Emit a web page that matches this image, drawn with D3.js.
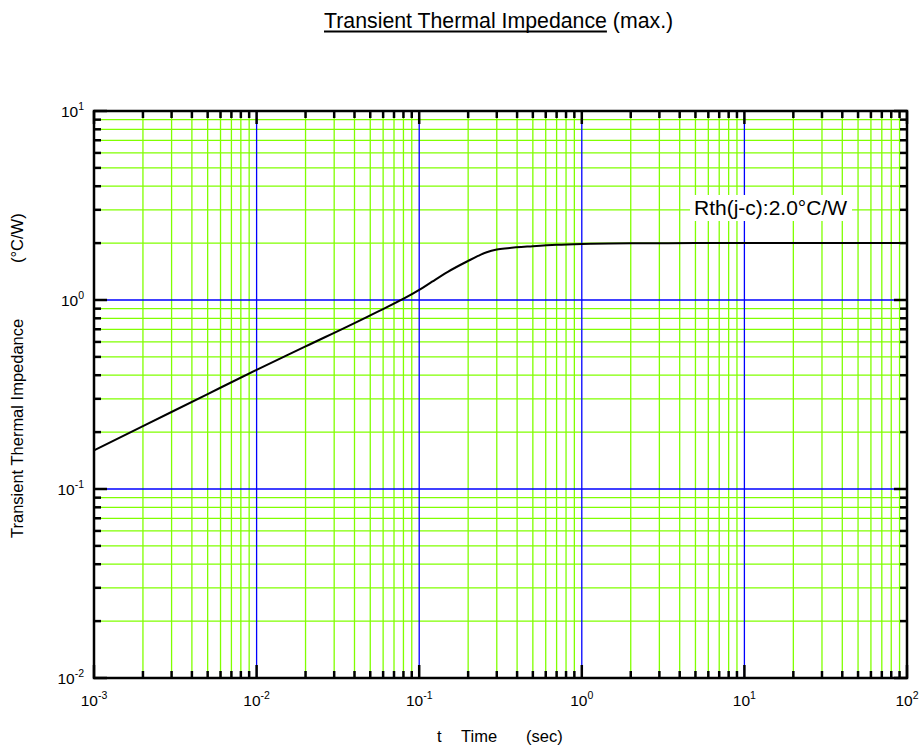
<!DOCTYPE html>
<html>
<head>
    <meta charset="utf-8">
    <title>transient thermal impedance</title>
    <script src="https://d3js.org/d3.v7.min.js"></script>
    <style>
        body { margin: 0px; background: #fff; }
        text { font-family: "Liberation Sans", Arial, sans-serif; fill: #000; }
    </style>
</head>
<body>
<svg width="922" height="745"></svg>
<script>

    // curve
    var timeSec = [0.001, 0.002, 0.005, 0.01, 0.02, 0.05, 0.1, 0.12, 0.15, 0.2, 0.23, 0.26, 0.3, 0.35, 0.5, 0.7, 1, 2, 5, 10, 100];
    var zth     = [0.16, 0.215, 0.318, 0.427, 0.568, 0.83, 1.13, 1.25, 1.41, 1.61, 1.71, 1.79, 1.85, 1.88, 1.925, 1.96, 1.98, 1.995, 2.0, 2.0, 2.0];

    var xDecades = [-3, -2, -1, 0, 1, 2],
        yDecades = [-2, -1, 0, 1];

    var svg = d3.select("svg"),
        pLeft = 94, pRight = 907, pTop = 111, pBottom = 678;

    var x = d3.scaleLog().domain([1e-3, 1e2]).range([pLeft, pRight]),
        y = d3.scaleLog().domain([1e-2, 1e1]).range([pBottom, pTop]);

    function isDecade(v){
        var l = Math.log10(v);
        return Math.abs(l - Math.round(l)) < 1e-9;
    }

    var xt = x.ticks(), yt = y.ticks();

    // grid: green minor, blue decades
    var grid = svg.append("g").attr("stroke-width", 1.3);
    grid.selectAll(".vx").data(xt.filter(function(d){ return !isDecade(d); })).enter()
        .append("line")
        .attr("x1", function(d){ return x(d); })
        .attr("x2", function(d){ return x(d); })
        .attr("y1", pTop).attr("y2", pBottom)
        .attr("stroke", "#80ff00");
    grid.selectAll(".hy").data(yt.filter(function(d){ return !isDecade(d); })).enter()
        .append("line")
        .attr("y1", function(d){ return y(d); })
        .attr("y2", function(d){ return y(d); })
        .attr("x1", pLeft).attr("x2", pRight)
        .attr("stroke", "#80ff00");
    grid.selectAll(".vd").data(xDecades.slice(1, -1)).enter()
        .append("line")
        .attr("x1", function(d){ return x(Math.pow(10, d)); })
        .attr("x2", function(d){ return x(Math.pow(10, d)); })
        .attr("y1", pTop).attr("y2", pBottom)
        .attr("stroke", "#0000ff");
    grid.selectAll(".hd").data(yDecades.slice(1, -1)).enter()
        .append("line")
        .attr("y1", function(d){ return y(Math.pow(10, d)); })
        .attr("y2", function(d){ return y(Math.pow(10, d)); })
        .attr("x1", pLeft).attr("x2", pRight)
        .attr("stroke", "#0000ff");

    // ticks on all four sides, pointing inward
    var ticks = svg.append("g").attr("stroke", "#000").attr("stroke-width", 2.5);
    xt.forEach(function(d){
        var len = isDecade(d) ? 13 : 7, px = x(d);
        ticks.append("line").attr("x1", px).attr("x2", px).attr("y1", pBottom).attr("y2", pBottom - len);
        ticks.append("line").attr("x1", px).attr("x2", px).attr("y1", pTop).attr("y2", pTop + len);
    });
    yt.forEach(function(d){
        var len = isDecade(d) ? 13 : 7, py = y(d);
        ticks.append("line").attr("y1", py).attr("y2", py).attr("x1", pLeft).attr("x2", pLeft + len);
        ticks.append("line").attr("y1", py).attr("y2", py).attr("x1", pRight).attr("x2", pRight - len);
    });

    // the curve
    var line = d3.line()
        .x(function(d){ return x(d[0]); })
        .y(function(d){ return y(d[1]); })
        .curve(d3.curveMonotoneX);
    svg.append("path")
        .datum(d3.zip(timeSec, zth))
        .attr("d", line)
        .attr("fill", "none")
        .attr("stroke", "#000")
        .attr("stroke-width", 2);

    // frame
    svg.append("rect")
        .attr("x", pLeft).attr("y", pTop)
        .attr("width", pRight - pLeft).attr("height", pBottom - pTop)
        .attr("fill", "none").attr("stroke", "#000").attr("stroke-width", 2.5);

    // Rth label with white box
    svg.append("rect")
        .attr("x", 690).attr("y", 195).attr("width", 162).attr("height", 26)
        .attr("fill", "#fff");
    svg.append("text")
        .attr("x", 694).attr("y", 215)
        .attr("font-size", 21)
        .text("Rth(j-c):2.0°C/W");

    // tick labels 10^n
    function powLabel(g, d){
        g.append("tspan").text("10");
        g.append("tspan").attr("dy", -7).attr("font-size", 10.5).text(d);
    }
    xDecades.forEach(function(d){
        var t = svg.append("text")
            .attr("x", x(Math.pow(10, d)))
            .attr("y", 706)
            .attr("font-size", 15.5)
            .attr("text-anchor", "middle");
        powLabel(t, d);
    });
    yDecades.forEach(function(d){
        var t = svg.append("text")
            .attr("x", 84)
            .attr("y", y(Math.pow(10, d)) + 6)
            .attr("font-size", 15.5)
            .attr("text-anchor", "end");
        powLabel(t, d);
    });

    // title, first part underlined
    var title = svg.append("text").attr("x", 324).attr("y", 28).attr("font-size", 21.3);
    title.append("tspan").text("Transient Thermal Impedance");
    title.append("tspan").text(" (max.)");
    var ulen = title.select("tspan").node().getComputedTextLength();
    svg.append("line")
        .attr("x1", 324).attr("x2", 324 + ulen)
        .attr("y1", 31.5).attr("y2", 31.5)
        .attr("stroke", "#000").attr("stroke-width", 1.8);

    // axis titles
    svg.append("text").attr("x", 437).attr("y", 742).attr("font-size", 16.5).text("t");
    svg.append("text").attr("x", 461).attr("y", 742).attr("font-size", 16.5).text("Time");
    svg.append("text").attr("x", 526).attr("y", 742).attr("font-size", 16.5).text("(sec)");

    svg.append("text")
        .attr("transform", "translate(23,538) rotate(-90)")
        .attr("font-size", 16.5)
        .text("Transient Thermal Impedance");
    svg.append("text")
        .attr("transform", "translate(23,263) rotate(-90)")
        .attr("font-size", 16.5)
        .text("(°C/W)");
</script>
</body>
</html>
